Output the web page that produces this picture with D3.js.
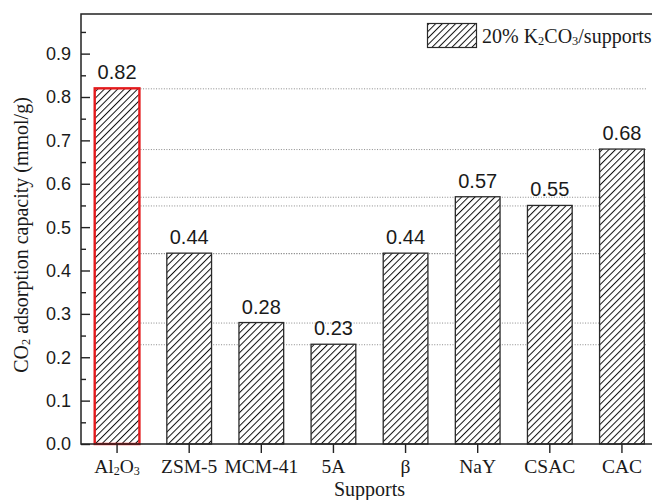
<!DOCTYPE html>
<html>
<head>
<meta charset="utf-8">
<script src="https://cdn.jsdelivr.net/npm/d3@7"></script>
<style>
  html, body { margin: 0; padding: 0; background: #fff; }
  svg { display: block; }
</style>
</head>
<body>
<div id="chart"></div>
<script>
// Supports and CO2 uptake of 20% K2CO3 loaded on each support
const categories = ["Al₂O₃", "ZSM-5", "MCM-41", "5A", "β", "NaY", "CSAC", "CAC"];
const capacity = [0.82, 0.44, 0.28, 0.23, 0.44, 0.57, 0.55, 0.68];
const highlighted = ["Al₂O₃"];
const yTicks = [0, 0.1, 0.2, 0.3, 0.4, 0.5, 0.6, 0.7, 0.8, 0.9];
const yMinorTicks = [0.05, 0.15, 0.25, 0.35, 0.45, 0.55, 0.65, 0.75, 0.85, 0.95];
const seriesName = "20% K₂CO₃/supports";
const xTitle = "Supports";
const yTitle = "CO₂ adsorption capacity (mmol/g)";

const W = 652, H = 500;
const plot = { left: 81, top: 14, right: 658, bottom: 444 };

const svg = d3.select("#chart").append("svg")
  .attr("width", W).attr("height", H)
  .attr("viewBox", `0 0 ${W} ${H}`);

// Diagonal "/" hatching used for the bars and the legend swatch
const gap = 4.7;
const defs = svg.append("defs");
const hatch = defs.append("pattern")
  .attr("id", "hatch")
  .attr("patternUnits", "userSpaceOnUse")
  .attr("width", gap).attr("height", gap)
  .attr("patternTransform", "rotate(45)");
hatch.append("rect").attr("width", gap).attr("height", gap).attr("fill", "#fff");
hatch.append("line")
  .attr("x1", 0).attr("y1", 0).attr("x2", 0).attr("y2", gap)
  .attr("stroke", "#111").attr("stroke-width", 2);

const x = d3.scaleBand()
  .domain(categories)
  .range([plot.left, plot.right])
  .paddingInner(0.38)
  .paddingOuter(0.19);

const y = d3.scaleLinear()
  .domain([0, 0.99])
  .range([plot.bottom, plot.bottom - 0.99 * 433.75]);

// Writes text where the characters ₀-₉ become small lowered digits
const subMap = { "₀": "0", "₁": "1", "₂": "2", "₃": "3", "₄": "4", "₅": "5", "₆": "6", "₇": "7", "₈": "8", "₉": "9" };
function richText(sel, str, size) {
  sel.text(null);
  const runs = [];
  for (const ch of str) {
    const sub = ch in subMap;
    const lastRun = runs[runs.length - 1];
    if (lastRun && lastRun.sub === sub) lastRun.text += sub ? subMap[ch] : ch;
    else runs.push({ sub, text: sub ? subMap[ch] : ch });
  }
  let prevSub = false;
  runs.forEach(r => {
    const t = sel.append("tspan").text(r.text);
    if (r.sub) t.attr("font-size", size * 0.62).attr("dy", size * 0.08);
    else if (prevSub) t.attr("dy", -size * 0.08);
    prevSub = r.sub;
  });
}

// Dotted guide lines at each bar's value
const first = categories[0], last = categories[categories.length - 1];
svg.append("g").selectAll("line")
  .data(capacity)
  .join("line")
  .attr("x1", x(first) + x.bandwidth() / 2)
  .attr("x2", x(last) + x.bandwidth() + 3)
  .attr("y1", d => y(d) + 0.5).attr("y2", d => y(d) + 0.5)
  .attr("stroke", "#8a8a8a")
  .attr("stroke-width", 1)
  .attr("stroke-dasharray", "1,1.6");

// Bars
svg.append("g").selectAll("rect")
  .data(categories.map((c, i) => ({ c, v: capacity[i] })))
  .join("rect")
  .attr("x", d => x(d.c))
  .attr("y", d => y(d.v))
  .attr("width", x.bandwidth())
  .attr("height", d => y(0) - y(d.v))
  .attr("fill", "url(#hatch)")
  .attr("stroke", d => highlighted.includes(d.c) ? "#e41a1c" : "#2a2a2a")
  .attr("stroke-width", d => highlighted.includes(d.c) ? 2.4 : 1.3);

// Value labels
svg.append("g").selectAll("text")
  .data(categories.map((c, i) => ({ c, v: capacity[i] })))
  .join("text")
  .attr("x", d => x(d.c) + x.bandwidth() / 2)
  .attr("y", d => y(d.v) - 9)
  .attr("text-anchor", "middle")
  .attr("font-family", "Liberation Sans, Arial, sans-serif")
  .attr("font-size", 20)
  .attr("fill", "#1a1a1a")
  .text(d => d3.format(".2f")(d.v));

// Y axis: inward major and minor ticks
const yAxis = svg.append("g").attr("transform", `translate(${plot.left},0)`);
yAxis.append("g")
  .call(d3.axisRight(y).tickValues(yTicks).tickSize(9).tickFormat(""))
  .call(g => g.select(".domain").remove());
yAxis.append("g")
  .call(d3.axisRight(y).tickValues(yMinorTicks).tickSize(5).tickFormat(""))
  .call(g => g.select(".domain").remove());
yAxis.selectAll(".tick line").attr("stroke", "#222").attr("stroke-width", 1.4);
yAxis.append("g").selectAll("text")
  .data(yTicks)
  .join("text")
  .attr("x", -10)
  .attr("y", d => y(d))
  .attr("dy", "0.36em")
  .attr("text-anchor", "end")
  .attr("font-family", "Liberation Sans, Arial, sans-serif")
  .attr("font-size", 18)
  .attr("fill", "#1a1a1a")
  .text(d => d3.format(".1f")(d));

// X axis: outward ticks at band centres
const xAxis = svg.append("g").attr("transform", `translate(0,${plot.bottom})`)
  .call(d3.axisBottom(x).tickSize(9).tickSizeOuter(0).tickFormat(""));
xAxis.select(".domain").remove();
xAxis.selectAll(".tick line").attr("stroke", "#222").attr("stroke-width", 1.4);
xAxis.selectAll(".tick").append("text")
  .attr("y", 29)
  .attr("text-anchor", "middle")
  .attr("font-family", "Liberation Serif, Times New Roman, serif")
  .attr("font-size", 19.5)
  .attr("fill", "#1a1a1a")
  .each(function (d) { richText(d3.select(this), d, 19.5); });

// Frame: left, bottom and top edges
svg.append("path")
  .attr("d", `M${plot.right},${plot.top}H${plot.left}V${plot.bottom}H${plot.right}`)
  .attr("fill", "none")
  .attr("stroke", "#222")
  .attr("stroke-width", 1.5);

// Axis titles
svg.append("text")
  .attr("x", (plot.left + plot.right) / 2)
  .attr("y", 496)
  .attr("text-anchor", "middle")
  .attr("font-family", "Liberation Serif, Times New Roman, serif")
  .attr("font-size", 20)
  .attr("fill", "#1a1a1a")
  .text(xTitle);

svg.append("text")
  .attr("transform", `translate(28,235) rotate(-90)`)
  .attr("text-anchor", "middle")
  .attr("font-family", "Liberation Serif, Times New Roman, serif")
  .attr("font-size", 20)
  .attr("fill", "#1a1a1a")
  .call(s => richText(s, yTitle, 20));

// Legend
const legend = svg.append("g");
legend.append("rect")
  .attr("x", 427.5).attr("y", 23.5)
  .attr("width", 49).attr("height", 24)
  .attr("fill", "url(#hatch)")
  .attr("stroke", "#2a2a2a").attr("stroke-width", 1.2);
legend.append("text")
  .attr("x", 482).attr("y", 43)
  .attr("font-family", "Liberation Serif, Times New Roman, serif")
  .attr("font-size", 20)
  .attr("fill", "#1a1a1a")
  .call(s => richText(s, seriesName, 20));
</script>
</body>
</html>
